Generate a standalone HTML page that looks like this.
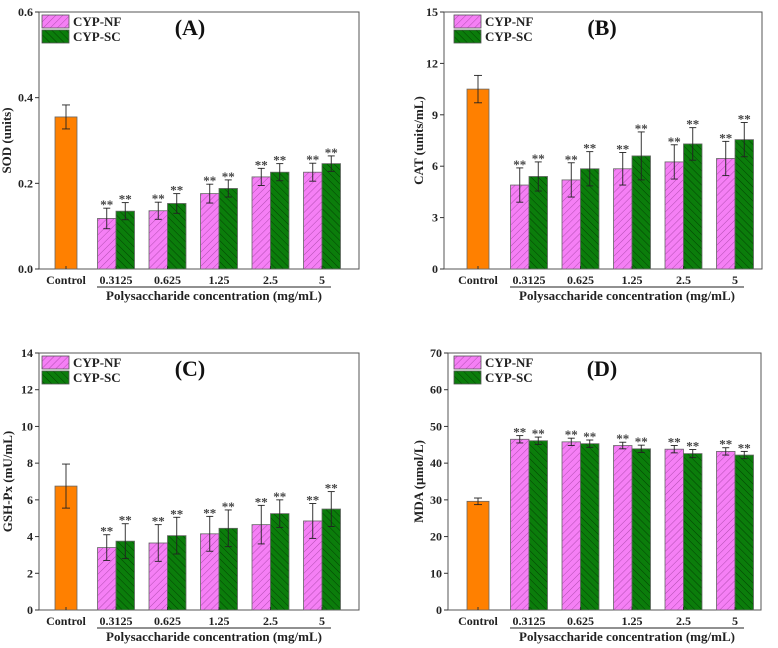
<!DOCTYPE html>
<html><head><meta charset="utf-8">
<style>
body{margin:0;background:#fff;}
svg{display:block;font-family:"Liberation Serif",serif;font-weight:bold;}
</style></head>
<body>
<svg id="fig" width="778" height="648" viewBox="0 0 778 648" xmlns="http://www.w3.org/2000/svg">
<defs>
<pattern id="hNF" width="5" height="5" patternUnits="userSpaceOnUse" patternTransform="rotate(45)">
<rect width="5" height="5" fill="#f57ff5"/><line x1="0" y1="0" x2="0" y2="5" stroke="#a040a0" stroke-width="0.8"/></pattern>
<pattern id="hSC" width="5" height="5" patternUnits="userSpaceOnUse" patternTransform="rotate(-45)">
<rect width="5" height="5" fill="#0b7d0b"/><line x1="0" y1="0" x2="0" y2="5" stroke="#023a02" stroke-width="0.9"/></pattern>
</defs>
</svg>
<script>
const categories = ["Control","0.3125","0.625","1.25","2.5","5"];
const aControl = [0.355, 0.028];
const aNF = [0.118,0.136,0.176,0.215,0.226];
const aNFerr = [0.024,0.02,0.022,0.02,0.021];
const aSC = [0.135,0.153,0.188,0.226,0.246];
const aSCerr = [0.02,0.023,0.02,0.02,0.018];
const aTicks = ["0.0","0.2","0.4","0.6"];
const bControl = [10.5, 0.8];
const bNF = [4.9,5.2,5.85,6.25,6.45];
const bNFerr = [1.0,1.0,0.95,1.0,1.0];
const bSC = [5.4,5.85,6.6,7.3,7.55];
const bSCerr = [0.85,1.0,1.4,0.95,1.0];
const bTicks = ["0","3","6","9","12","15"];
const cControl = [6.75, 1.2];
const cNF = [3.4,3.65,4.15,4.65,4.85];
const cNFerr = [0.7,1.0,0.95,1.05,0.95];
const cSC = [3.75,4.05,4.45,5.25,5.5];
const cSCerr = [0.95,1.0,1.0,0.75,0.95];
const cTicks = ["0","2","4","6","8","10","12","14"];
const dControl = [29.6, 0.9];
const dNF = [46.5,45.8,44.8,43.8,43.2];
const dNFerr = [1.0,1.0,0.9,1.0,1.0];
const dSC = [46.1,45.3,43.9,42.6,42.2];
const dSCerr = [1.0,1.0,1.0,1.1,1.0];
const dTicks = ["0","10","20","30","40","50","60","70"];

const svg = document.getElementById('fig');
const NS = "http://www.w3.org/2000/svg";
function mk(tag, attrs, parent, text){
  const e = document.createElementNS(NS, tag);
  for (const k in attrs) e.setAttribute(k, attrs[k]);
  if (text !== undefined) e.textContent = text;
  (parent||svg).appendChild(e);
  return e;
}

function panel(p){
  const g = mk('g',{});
  
  
  const ymax = parseFloat(p.ticks[p.ticks.length-1]);
  const y = v => p.B - (v/ymax)*(p.B-p.T);
  const bw = 18.5;
  const cx = i => i===0 ? p.c0 : p.g0 + (i-1)*51.5;
  const fr = mk('rect',{x:p.L,y:p.T,width:p.R-p.L,height:p.B-p.T,fill:'none',stroke:'#555','stroke-width':1},g);
  
  
  p.ticks.forEach(t=>{
    const yy = y(parseFloat(t));
    mk('line',{x1:p.L-4,x2:p.L,y1:yy,y2:yy,stroke:'#333','stroke-width':1},g);
    const tl = mk('text',{x:p.L-6,y:yy+4,'text-anchor':'end','font-size':12,fill:'#222'},g,t);
    
    
  });
  const yl = mk('text',{x:0,y:0,transform:`translate(${p.yl},${(p.T+p.B)/2}) rotate(-90)`,'text-anchor':'middle','font-size':13,fill:'#222'},g,p.ylabel);
  
  
  function bar(x, v, e, fill, name){
    const r = mk('rect',{x:x,y:y(v),width:bw,height:p.B-y(v),fill:fill,stroke:'#666','stroke-width':0.8},g);
    
    
    const xc = x+bw/2;
    mk('line',{x1:xc,x2:xc,y1:y(v+e),y2:y(v-e),stroke:'#222','stroke-width':0.9},g);
    mk('line',{x1:xc-3.5,x2:xc+3.5,y1:y(v+e),y2:y(v+e),stroke:'#222','stroke-width':0.9},g);
    mk('line',{x1:xc-3.5,x2:xc+3.5,y1:y(v-e),y2:y(v-e),stroke:'#222','stroke-width':0.9},g);
    return xc;
  }
  const cc = cx(0);
  const cb = mk('rect',{x:cc-11,y:y(p.ctrl[0]),width:22,height:p.B-y(p.ctrl[0]),fill:'#ff8000',stroke:'#666','stroke-width':0.8},g);
  
  
  mk('line',{x1:cc,x2:cc,y1:y(p.ctrl[0]+p.ctrl[1]),y2:y(p.ctrl[0]-p.ctrl[1]),stroke:'#222','stroke-width':0.9},g);
  [p.ctrl[0]+p.ctrl[1],p.ctrl[0]-p.ctrl[1]].forEach(v=>mk('line',{x1:cc-4,x2:cc+4,y1:y(v),y2:y(v),stroke:'#222','stroke-width':0.9},g));
  p.nf.forEach((v,i)=>{
    const c = cx(i+1);
    const x1 = bar(c-bw, v, p.nfe[i], 'url(#hNF)', 'bar-nf-'+categories[i+1]);
    const s1 = mk('text',{x:x1,y:y(v+p.nfe[i])+1,'text-anchor':'middle','font-size':13,fill:'#444'},g,'**');
    
    
    const x2 = bar(c, p.sc[i], p.sce[i], 'url(#hSC)', 'bar-sc-'+categories[i+1]);
    const s2 = mk('text',{x:x2,y:y(p.sc[i]+p.sce[i])+1,'text-anchor':'middle','font-size':13,fill:'#444'},g,'**');
    
    
  });
  categories.forEach((c,i)=>{
    const xx = cx(i);
    mk('line',{x1:xx,x2:xx,y1:p.B,y2:p.B-3,stroke:'#333','stroke-width':1},g);
    const t = mk('text',{x:xx,y:p.B+15,'text-anchor':'middle','font-size':12,fill:'#222'},g,c);
    
    
  });
  mk('line',{x1:cx(1)-19,x2:cx(5)+9,y1:p.B+18,y2:p.B+18,stroke:'#222','stroke-width':1},g);
  const xt = mk('text',{x:(cx(1)+cx(5))/2-5,y:p.B+31,'text-anchor':'middle','font-size':13,fill:'#222'},g,'Polysaccharide concentration (mg/mL)');
  
  
  const lx = p.L+3+ (p.lgOff||0);
  const l1 = mk('rect',{x:lx,y:p.T+3,width:27,height:13,fill:'url(#hNF)',stroke:'#555','stroke-width':0.8},g);
  
  
  const lt1 = mk('text',{x:lx+31,y:p.T+14,'font-size':13,fill:'#222'},g,'CYP-NF');
  
  
  const l2 = mk('rect',{x:lx,y:p.T+18,width:27,height:13,fill:'url(#hSC)',stroke:'#555','stroke-width':0.8},g);
  
  
  const lt2 = mk('text',{x:lx+31,y:p.T+29,'font-size':13,fill:'#222'},g,'CYP-SC');
  
  
  const pl = mk('text',{x:p.lab,y:p.T+23,'text-anchor':'middle','font-size':22,fill:'#111'},g,'('+p.id+')');
  
  
}

panel({id:'A',L:39,R:359,T:12,B:269,c0:66,g0:116,yl:11,lab:190,ticks:aTicks,ylabel:'SOD (units)',ctrl:aControl,nf:aNF,nfe:aNFerr,sc:aSC,sce:aSCerr});
panel({id:'B',L:444,R:762,T:12,B:269,c0:478,g0:529,yl:423,lab:602,lgOff:7,ticks:bTicks,ylabel:'CAT (units/mL)',ctrl:bControl,nf:bNF,nfe:bNFerr,sc:bSC,sce:bSCerr});
panel({id:'C',L:39,R:359,T:353,B:610,c0:66,g0:116,yl:12,lab:190,ticks:cTicks,ylabel:'GSH-Px (mU/mL)',ctrl:cControl,nf:cNF,nfe:cNFerr,sc:cSC,sce:cSCerr});
panel({id:'D',L:448,R:761,T:353,B:610,c0:478,g0:529,yl:423,lab:602,lgOff:3,ticks:dTicks,ylabel:'MDA (μmol/L)',ctrl:dControl,nf:dNF,nfe:dNFerr,sc:dSC,sce:dSCerr});
</script>
</body></html>
